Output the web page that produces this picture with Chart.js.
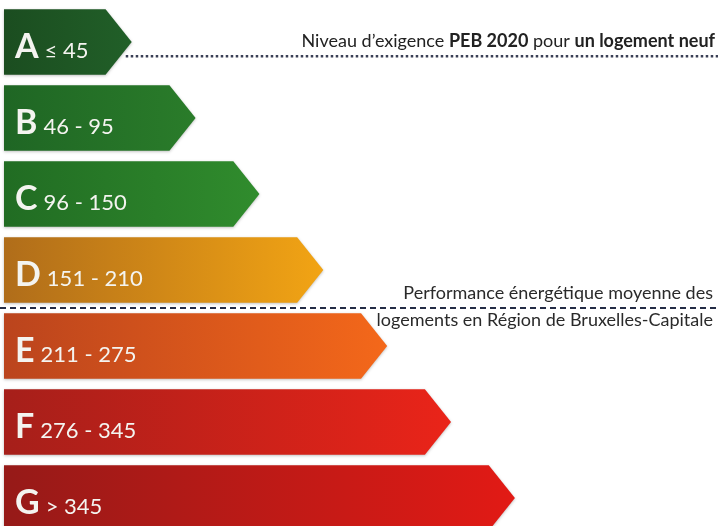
<!DOCTYPE html>
<html>
<head>
<meta charset="utf-8">
<script src="https://cdn.jsdelivr.net/npm/chart.js@4.4.1/dist/chart.umd.min.js"></script>
<style>
  html, body { margin: 0; padding: 0; background: #fff; overflow: hidden; width: 718px; height: 526px; }
  #wrap { position: relative; width: 718px; height: 540px; }
</style>
</head>
<body>
<div id="wrap"><canvas id="pebChart"></canvas></div>
<script>
const classes = ["A", "B", "C", "D", "E", "F", "G"];
const ranges = ["≤ 45", "46 - 95", "96 - 150", "151 - 210", "211 - 275", "276 - 345", "> 345"];
const barLengths = [2, 3, 4, 5, 6, 7, 8];
const colorsLeft = ["#1b4d20", "#1f6624", "#216c23", "#b06d1a", "#bb441d", "#a61f1a", "#961a18"];
const colorsRight = ["#215f28", "#2a7c2a", "#308c2d", "#f2a414", "#f4681a", "#ea2419", "#e21a15"];

// reference lines: text runs
const note1 = [["Niveau d\u2019exigence ", "normal"], ["PEB 2020", "bold"], [" pour ", "normal"], ["un logement neuf", "bold"]];
const note2 = ["Performance énergétique moyenne des", "logements en Région de Bruxelles-Capitale"];

const FONT = "Lato, 'Open Sans', sans-serif";

const arrowBars = {
  id: "arrowBars",
  afterDatasetsDraw(chart) {
    const ctx = chart.ctx;
    const meta = chart.getDatasetMeta(0);
    meta.data.forEach((bar, i) => {
      const top = bar.y - bar.height / 2;
      const bottom = bar.y + bar.height / 2;
      const depth = bar.height * 0.4;
      const g = ctx.createLinearGradient(bar.base, 0, bar.x, 0);
      g.addColorStop(0, colorsLeft[i]);
      g.addColorStop(1, colorsRight[i]);
      ctx.save();
      ctx.shadowColor = "rgba(0,0,0,0.25)";
      ctx.shadowBlur = 3;
      ctx.shadowOffsetY = 1;
      ctx.beginPath();
      ctx.moveTo(bar.base, top);
      ctx.lineTo(bar.x - depth, top);
      ctx.lineTo(bar.x, bar.y);
      ctx.lineTo(bar.x - depth, bottom);
      ctx.lineTo(bar.base, bottom);
      ctx.closePath();
      ctx.fillStyle = g;
      ctx.fill();
      ctx.restore();

      ctx.save();
      ctx.fillStyle = "#f4f4f0";
      ctx.textBaseline = "alphabetic";
      ctx.font = "bold 34px " + FONT;
      const lx = bar.base + 11;
      const by = bar.y + 16;
      ctx.fillText(classes[i], lx, by);
      const w = ctx.measureText(classes[i]).width;
      ctx.font = "22px " + FONT;
      ctx.fillText(ranges[i], lx + w + 6, by);
      ctx.restore();
    });

    // reference lines
    const right = chart.width;
    const a = meta.data[0];
    const d = meta.data[3], e = meta.data[4];
    ctx.save();
    // dotted PEB 2020 line
    ctx.fillStyle = "#3a3f55";
    const y1 = a.y + 14;
    for (let x = a.x - 6; x < right; x += 5) {
      ctx.fillRect(x, y1 - 1, 2.5, 2.5);
    }
    let total = 0;
    note1.forEach(([t, wgt]) => {
      ctx.font = wgt + " 18px " + FONT;
      total += ctx.measureText(t).width;
    });
    let tx = right - 3 - total;
    note1.forEach(([t, wgt]) => {
      ctx.font = wgt + " 18px " + FONT;
      ctx.fillStyle = "#222";
      ctx.fillText(t, tx, y1 - 9);
      tx += ctx.measureText(t).width;
    });

    // dashed average line
    const y2 = (d.y + e.y) / 2;
    ctx.strokeStyle = "#232b45";
    ctx.lineWidth = 2;
    ctx.setLineDash([6, 4]);
    ctx.beginPath();
    ctx.moveTo(0, y2);
    ctx.lineTo(right, y2);
    ctx.stroke();
    ctx.setLineDash([]);
    ctx.fillStyle = "#2a2a2a";
    ctx.font = "18px " + FONT;
    ctx.textAlign = "right";
    ctx.fillText(note2[0], right - 5, y2 - 9);
    ctx.fillText(note2[1], right - 5, y2 + 18);
    ctx.restore();
  }
};

new Chart(document.getElementById("pebChart").getContext("2d"), {
  type: "bar",
  data: {
    labels: classes,
    datasets: [{
      data: barLengths,
      backgroundColor: "rgba(0,0,0,0)",
      barPercentage: 0.86,
      categoryPercentage: 1
    }]
  },
  options: {
    indexAxis: "y",
    responsive: true,
    maintainAspectRatio: false,
    animation: false,
    layout: { padding: { left: 4, top: 4, right: 0, bottom: 4 } },
    scales: {
      x: { display: false, min: 0, max: 11.18 },
      y: { display: false }
    },
    plugins: {
      legend: { display: false },
      tooltip: { enabled: false }
    }
  },
  plugins: [arrowBars]
});
</script>
</body>
</html>
